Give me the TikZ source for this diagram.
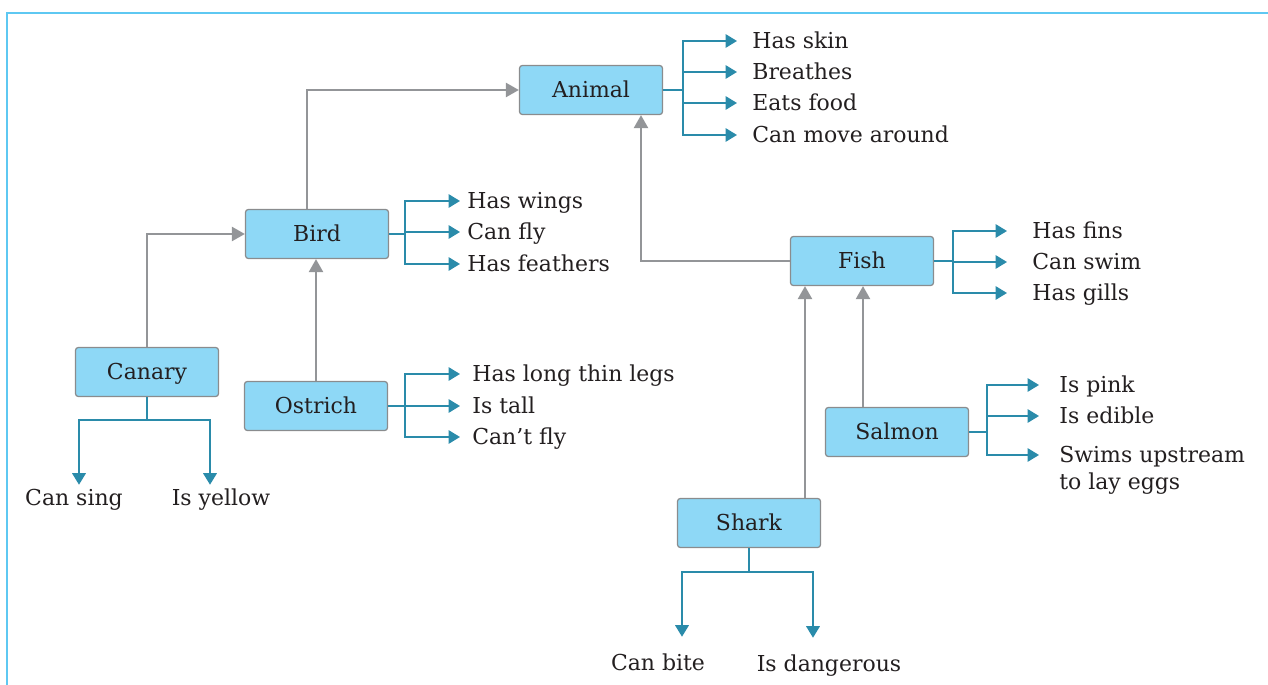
\documentclass[tikz,border=0pt]{standalone}
\usepackage{fontspec}
\setmainfont{DejaVu Serif}
\usetikzlibrary{arrows.meta}
\definecolor{boxfill}{HTML}{8ED8F6}
\definecolor{boxline}{HTML}{8A8C8E}
\definecolor{isagray}{HTML}{939598}
\definecolor{hasteal}{HTML}{2A8BAA}
\definecolor{framecyan}{HTML}{5EC8F2}
\definecolor{textdark}{HTML}{231F20}
\begin{document}
\begin{tikzpicture}[x=0.02cm,y=-0.02cm,
        font=\fontsize{12.5}{15.3}\selectfont,text=textdark,
        box/.style={draw=boxline,fill=boxfill,line width=0.7pt,rounded corners=1.6pt,
            minimum width=2.86cm,minimum height=0.98cm,inner sep=0pt,text height=9pt,text depth=0pt},
        feat/.style={anchor=west,inner sep=0pt,text height=9pt,text depth=0pt},
        isa/.style={draw=isagray,line width=1.3pt,-{Triangle[length=0.26cm,width=0.28cm]}},
        has/.style={draw=hasteal,line width=1pt,-{Triangle[length=0.23cm,width=0.27cm]}}]
        
        \useasboundingbox (0,0) rectangle (1268,685);
        \draw[framecyan,line width=1.5pt] (1268,13) -- (7,13) -- (7,685);
        
        % the boxes
        \node[box] (animal) at (591,90) {Animal};
        \node[box] (bird) at (317,234) {Bird};
        \node[box] (canary) at (147,372) {Canary};
        \node[box] (ostrich) at (316,406) {Ostrich};
        \node[box] (fish) at (862,261) {Fish};
        \node[box] (salmon) at (897,432) {Salmon};
        \node[box] (shark) at (749,523) {Shark};
        
        % what they have / can do
        \node[feat] (skin) at (752,41) {Has skin};
        \node[feat] (breathes) at (752,72) {Breathes};
        \node[feat] (eats) at (752,103) {Eats food};
        \node[feat] (moves) at (752,135) {Can move around};
        \node[feat] (wings) at (467,201) {Has wings};
        \node[feat] (fly) at (467,232) {Can fly};
        \node[feat] (feathers) at (467,264) {Has feathers};
        \node[feat] (legs) at (472,374) {Has long thin legs};
        \node[feat] (tall) at (472,406) {Is tall};
        \node[feat] (cantfly) at (472,437) {Can't fly};
        \node[feat] (fins) at (1032,231) {Has fins};
        \node[feat] (swim) at (1032,262) {Can swim};
        \node[feat] (gills) at (1032,293) {Has gills};
        \node[feat] (pink) at (1059,385) {Is pink};
        \node[feat] (edible) at (1059,416) {Is edible};
        \node[feat] (upstream) at (1059,455) {\begin{tabular}[t]{@{}l@{}}Swims upstream\\to lay eggs\end{tabular}};
        \node[feat,anchor=center] (sing) at (74,498) {Can sing};
        \node[feat,anchor=center] (yellow) at (221,498) {Is yellow};
        \node[feat,anchor=center] (bite) at (658,663) {Can bite};
        \node[feat,anchor=center] (danger) at (829,664) {Is dangerous};
        
        % is a
        \draw[isa] ([xshift=-0.2cm]bird.north) |- (animal.west);
        \draw[isa] (canary.north) |- (bird.west);
        \draw[isa] (ostrich.north) -- (ostrich.north |- bird.south);
        \draw[isa] (fish.west) -| ([xshift=1cm]animal.south);
        \draw[isa] ([xshift=1.12cm]shark.north) coordinate (s1) -- (s1 |- fish.south);
        \draw[isa] ([xshift=-0.68cm]salmon.north) coordinate (s2) -- (s2 |- fish.south);
        
        % has
        \draw[has] (animal.east) -- ++(20,0) coordinate (a0) |- ([xshift=-0.3cm]skin.west);
        \foreach \f in {breathes,eats,moves} \draw[has] (a0) |- ([xshift=-0.3cm]\f.west);
        \draw[has] (bird.east) -- ++(16,0) coordinate (b0) |- ([xshift=-0.14cm]wings.west);
        \foreach \f in {fly,feathers} \draw[has] (b0) |- ([xshift=-0.14cm]\f.west);
        \draw[has] (ostrich.east) -- ++(17,0) coordinate (o0) |- ([xshift=-0.24cm]legs.west);
        \foreach \f in {tall,cantfly} \draw[has] (o0) |- ([xshift=-0.24cm]\f.west);
        \draw[has] (fish.east) -- ++(19,0) coordinate (f0) |- ([xshift=-0.5cm]fins.west);
        \foreach \f in {swim,gills} \draw[has] (f0) |- ([xshift=-0.5cm]\f.west);
        \draw[has] (salmon.east) -- ++(18,0) coordinate (m0) |- ([xshift=-0.4cm]pink.west);
        \foreach \f in {edible,upstream} \draw[has] (m0) |- ([xshift=-0.4cm]\f.west);
        \draw[has] (canary.south) -- ++(0,23) coordinate (c0) -| ([xshift=0.1cm,yshift=0.1cm]sing.north);
        \draw[has] (c0) -| ([xshift=-0.22cm,yshift=0.1cm]yellow.north);
        \draw[has] (shark.south) -- ++(0,24) coordinate (k0) -| ([xshift=0.48cm,yshift=0.36cm]bite.north);
        \draw[has] (k0) -| ([xshift=-0.32cm,yshift=0.36cm]danger.north);
        
        \end{tikzpicture}
\end{document}
